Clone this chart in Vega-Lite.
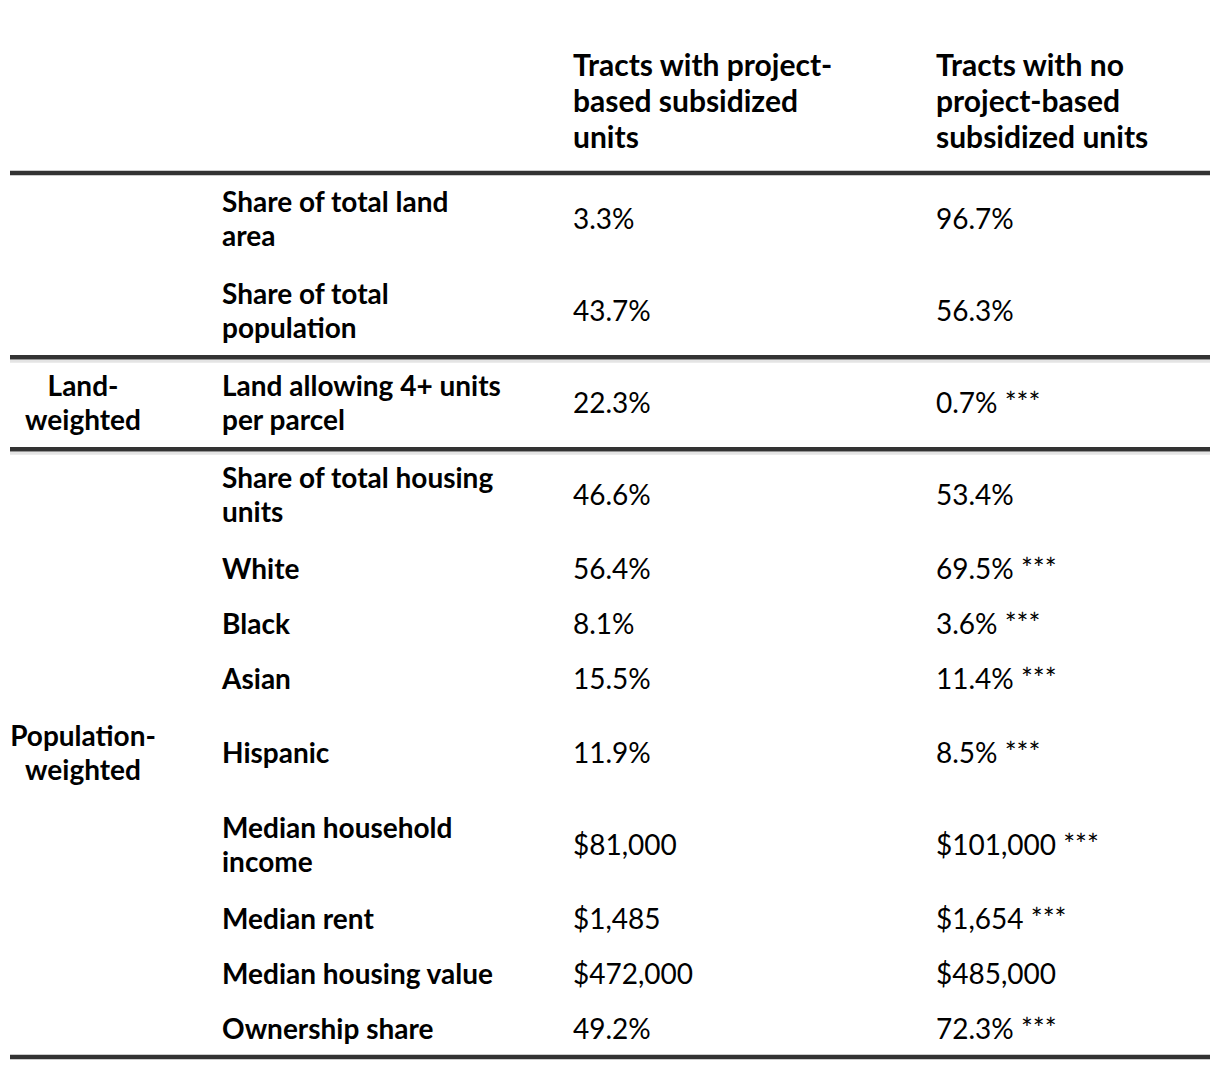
{
  "$schema": "https://vega.github.io/schema/vega-lite/v6.json",
  "width": 1200,
  "height": 1070,
  "autosize": {"type": "none"},
  "padding": {"left": 10, "right": 10, "top": 0, "bottom": 0},
  "background": "#ffffff",
  "config": {"view": {"stroke": null}, "text": {"font": "Lato", "color": "#000000"}},
  "datasets": {
    "rows": [
      {"key": "land_area", "group": "", "metric": "Share of total land\narea", "with": "3.3%", "without": "96.7%"},
      {"key": "population", "group": "", "metric": "Share of total\npopulation", "with": "43.7%", "without": "56.3%"},
      {"key": "land_allow", "group": "Land-\nweighted", "metric": "Land allowing 4+ units\nper parcel", "with": "22.3%", "without": "0.7% ***"},
      {"key": "housing", "group": "", "metric": "Share of total housing\nunits", "with": "46.6%", "without": "53.4%"},
      {"key": "white", "group": "", "metric": "White", "with": "56.4%", "without": "69.5% ***"},
      {"key": "black", "group": "", "metric": "Black", "with": "8.1%", "without": "3.6% ***"},
      {"key": "asian", "group": "", "metric": "Asian", "with": "15.5%", "without": "11.4% ***"},
      {"key": "hispanic", "group": "Population-\nweighted", "metric": "Hispanic", "with": "11.9%", "without": "8.5% ***"},
      {"key": "income", "group": "", "metric": "Median household\nincome", "with": "$81,000", "without": "$101,000 ***"},
      {"key": "rent", "group": "", "metric": "Median rent", "with": "$1,485", "without": "$1,654 ***"},
      {"key": "value", "group": "", "metric": "Median housing value", "with": "$472,000", "without": "$485,000"},
      {"key": "owner", "group": "", "metric": "Ownership share", "with": "49.2%", "without": "72.3% ***"}
    ],
    "header": [
      {"col": "with", "title": "Tracts with project-\nbased subsidized\nunits"},
      {"col": "without", "title": "Tracts with no\nproject-based\nsubsidized units"}
    ],
    "rules": [
      {"at": "land_area-1", "kind": "header"},
      {"at": "land_allow-1", "kind": "section"},
      {"at": "housing-1", "kind": "section"}
    ],
    "endrule": [{"at": "owner-3"}]
  },
  "layer": [
    {
      "data": {"name": "rules"},
      "transform": [{"filter": "datum.kind == 'section'"}],
      "mark": {"type": "rule", "color": "#e4e4e4", "strokeWidth": 3},
      "encoding": {"y": {"field": "at", "type": "nominal", "bandPosition": 0.22, "axis": null}}
    },
    {
      "data": {"name": "rules"},
      "mark": {"type": "rule", "color": "#333333", "strokeWidth": 4.5},
      "encoding": {"y": {"field": "at", "type": "nominal", "bandPosition": 0, "axis": null}}
    },
    {
      "data": {"name": "endrule"},
      "mark": {"type": "rule", "color": "#333333", "strokeWidth": 4.5},
      "encoding": {"y": {"field": "at", "type": "nominal", "bandPosition": 1, "axis": null}}
    },
    {
      "data": {"name": "header"},
      "mark": {"type": "text", "align": "left", "baseline": "middle", "fontSize": 30, "fontWeight": "bold", "lineBreak": "\n", "lineHeight": 36},
      "encoding": {
        "x": {"field": "col", "type": "nominal", "bandPosition": 0, "axis": null},
        "y": {"datum": "h3", "type": "nominal", "bandPosition": 0.236, "axis": null},
        "text": {"field": "title"}
      }
    },
    {
      "data": {"name": "rows"},
      "transform": [{"filter": "datum.group != ''"}],
      "mark": {"type": "text", "align": "center", "baseline": "middle", "fontSize": 28, "fontWeight": "bold", "lineBreak": "\n", "lineHeight": 34},
      "encoding": {
        "x": {"datum": "metric", "type": "nominal", "bandPosition": -0.4635, "axis": null},
        "y": {"field": "key", "type": "nominal", "bandPosition": -0.32, "axis": null},
        "text": {"field": "group"}
      }
    },
    {
      "data": {"name": "rows"},
      "transform": [{"filter": "indexof(datum.metric, '\\n') < 0"}],
      "mark": {"type": "text", "align": "left", "baseline": "middle", "fontSize": 28, "fontWeight": "bold"},
      "encoding": {
        "x": {"datum": "metric", "type": "nominal", "bandPosition": 0.0438, "axis": null},
        "y": {"field": "key", "type": "nominal", "bandPosition": 0.6, "axis": null},
        "text": {"field": "metric"}
      }
    },
    {
      "data": {"name": "rows"},
      "transform": [{"filter": "indexof(datum.metric, '\\n') >= 0"}],
      "mark": {"type": "text", "align": "left", "baseline": "middle", "fontSize": 28, "fontWeight": "bold", "lineBreak": "\n", "lineHeight": 34},
      "encoding": {
        "x": {"datum": "metric", "type": "nominal", "bandPosition": 0.0438, "axis": null},
        "y": {"field": "key", "type": "nominal", "bandPosition": -0.32, "axis": null},
        "text": {"field": "metric"}
      }
    },
    {
      "data": {"name": "rows"},
      "transform": [{"fold": ["with", "without"], "as": ["col", "val"]}],
      "mark": {"type": "text", "align": "left", "baseline": "middle", "fontSize": 28, "fontWeight": "normal"},
      "encoding": {
        "x": {
          "field": "col", "type": "nominal", "bandPosition": 0, "axis": null,
          "scale": {"type": "band", "domain": ["metric", "with", "without"], "paddingInner": 0.2452, "paddingOuter": 0.2755, "align": 1}
        },
        "y": {
          "field": "key", "type": "nominal", "bandPosition": 0.6, "axis": null,
          "scale": {
            "type": "band",
            "domain": ["h0", "h1", "h2", "h3", "h4", "h5", "h6", "h7", "h8",
              "land_area-1", "land_area-2", "land_area", "land_area-4", "land_area-5",
              "population-1", "population-2", "population", "population-4", "population-5",
              "land_allow-1", "land_allow-2", "land_allow", "land_allow-4", "land_allow-5",
              "housing-1", "housing-2", "housing", "housing-4", "housing-5",
              "white-1", "white", "white-3",
              "black-1", "black", "black-3",
              "asian-1", "asian", "asian-3",
              "hispanic-1", "hispanic-2", "hispanic", "hispanic-4", "hispanic-5",
              "income-1", "income-2", "income", "income-4", "income-5",
              "rent-1", "rent", "rent-3",
              "value-1", "value", "value-3",
              "owner-1", "owner", "owner-3"],
            "paddingInner": 0, "paddingOuter": 0.5498, "align": 0.358
          }
        },
        "text": {"field": "val"}
      }
    }
  ]
}
